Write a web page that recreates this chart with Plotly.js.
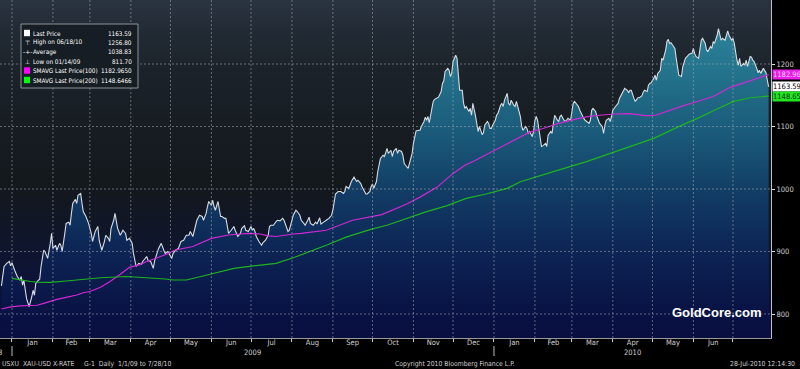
<!DOCTYPE html>
<html><head><meta charset="utf-8">
<script src="https://cdn.plot.ly/plotly-3.0.1.min.js"></script>
<style>
html,body{margin:0;padding:0;background:#000;width:800px;height:369px;overflow:hidden;}
#wrap{position:relative;width:800px;height:369px;}
#bg{position:absolute;left:0;top:0;width:771px;height:338px;
background:linear-gradient(to bottom,#2a3440 0%,#222b35 9%,#1b2229 22%,#161c21 40%,#13181d 55%,#10162a 70%,#0c1238 85%,#0a0e42 100%);}
#chart{position:absolute;left:0;top:0;width:800px;height:369px;}
</style></head><body>
<div id="wrap"><div id="bg"></div><div id="chart"></div></div>
<script>
// ---------------- DATA ----------------
const priceDates = [
'2008-12-24','2008-12-26','2008-12-28','2008-12-30','2008-12-31',
'2009-01-01','2009-01-03','2009-01-05','2009-01-07','2009-01-08','2009-01-09','2009-01-10','2009-01-12','2009-01-13','2009-01-14','2009-01-16','2009-01-17','2009-01-18','2009-01-19','2009-01-21','2009-01-22','2009-01-23','2009-01-25','2009-01-26','2009-01-28','2009-01-30','2009-01-31',
'2009-02-01','2009-02-03','2009-02-04','2009-02-06','2009-02-07','2009-02-08','2009-02-10','2009-02-11','2009-02-13','2009-02-14','2009-02-15','2009-02-16','2009-02-18','2009-02-19','2009-02-20','2009-02-22','2009-02-23','2009-02-24','2009-02-26','2009-02-28',
'2009-03-02','2009-03-03','2009-03-05','2009-03-07','2009-03-08','2009-03-10','2009-03-12','2009-03-13','2009-03-15','2009-03-16','2009-03-17','2009-03-19','2009-03-20','2009-03-21','2009-03-22','2009-03-24','2009-03-26','2009-03-28','2009-03-29','2009-03-31',
'2009-04-02','2009-04-03','2009-04-04','2009-04-05','2009-04-07','2009-04-09','2009-04-10','2009-04-13','2009-04-14','2009-04-16','2009-04-18','2009-04-19','2009-04-22','2009-04-24','2009-04-26','2009-04-27','2009-04-29',
'2009-05-01','2009-05-02','2009-05-03','2009-05-05','2009-05-07','2009-05-09','2009-05-11','2009-05-13','2009-05-15','2009-05-16','2009-05-18','2009-05-20','2009-05-21','2009-05-23','2009-05-25','2009-05-26','2009-05-28','2009-05-29','2009-05-30',
'2009-06-01','2009-06-02','2009-06-03','2009-06-04','2009-06-06','2009-06-07','2009-06-08','2009-06-09','2009-06-11','2009-06-12','2009-06-13','2009-06-14','2009-06-16','2009-06-18','2009-06-19','2009-06-21','2009-06-23','2009-06-24','2009-06-26','2009-06-27','2009-06-29',
'2009-07-01','2009-07-02','2009-07-03','2009-07-04','2009-07-05','2009-07-07','2009-07-09','2009-07-10','2009-07-12','2009-07-14','2009-07-15','2009-07-16','2009-07-18','2009-07-20','2009-07-21','2009-07-23','2009-07-25','2009-07-26','2009-07-28','2009-07-29','2009-07-30',
'2009-08-01','2009-08-02','2009-08-04','2009-08-05','2009-08-07','2009-08-08','2009-08-10','2009-08-11','2009-08-13','2009-08-14','2009-08-15','2009-08-17','2009-08-19','2009-08-20','2009-08-22','2009-08-23','2009-08-25','2009-08-26','2009-08-27','2009-08-29','2009-08-31',
'2009-09-01','2009-09-02','2009-09-03','2009-09-05','2009-09-07','2009-09-09','2009-09-10','2009-09-11','2009-09-13','2009-09-14','2009-09-15','2009-09-17','2009-09-18','2009-09-19','2009-09-20','2009-09-22','2009-09-23','2009-09-25','2009-09-26','2009-09-27','2009-09-29','2009-09-30',
'2009-10-01','2009-10-02','2009-10-04','2009-10-05','2009-10-06','2009-10-07','2009-10-09','2009-10-10','2009-10-11','2009-10-12','2009-10-13','2009-10-15','2009-10-16','2009-10-17','2009-10-19','2009-10-20','2009-10-21','2009-10-23','2009-10-24','2009-10-25','2009-10-26','2009-10-28','2009-10-29','2009-10-30','2009-10-31',
'2009-11-01','2009-11-02','2009-11-03','2009-11-05','2009-11-06','2009-11-07','2009-11-09','2009-11-10','2009-11-11','2009-11-12','2009-11-13','2009-11-15','2009-11-16','2009-11-17','2009-11-19','2009-11-20','2009-11-22','2009-11-23','2009-11-24','2009-11-25','2009-11-27','2009-11-28','2009-11-29','2009-11-30',
'2009-12-01','2009-12-03','2009-12-04','2009-12-05','2009-12-06','2009-12-08','2009-12-09','2009-12-10','2009-12-11','2009-12-13','2009-12-14','2009-12-15','2009-12-16','2009-12-18','2009-12-19','2009-12-20','2009-12-21','2009-12-23','2009-12-24','2009-12-25','2009-12-27','2009-12-28','2009-12-29','2009-12-30','2009-12-31',
'2010-01-02','2010-01-03','2010-01-04','2010-01-06','2010-01-07','2010-01-08','2010-01-09','2010-01-11','2010-01-12','2010-01-13','2010-01-14','2010-01-16','2010-01-17','2010-01-18','2010-01-19','2010-01-21','2010-01-22','2010-01-23','2010-01-25','2010-01-26','2010-01-27','2010-01-28','2010-01-30','2010-01-31',
'2010-02-01','2010-02-02','2010-02-03','2010-02-05','2010-02-06','2010-02-07','2010-02-09','2010-02-10','2010-02-11','2010-02-13','2010-02-14','2010-02-15','2010-02-16','2010-02-18','2010-02-19','2010-02-20','2010-02-21','2010-02-23','2010-02-24','2010-02-25','2010-02-26','2010-02-28',
'2010-03-01','2010-03-02','2010-03-03','2010-03-05','2010-03-06','2010-03-07','2010-03-08','2010-03-10','2010-03-11','2010-03-12','2010-03-14','2010-03-15','2010-03-16','2010-03-17','2010-03-19','2010-03-20','2010-03-21','2010-03-22','2010-03-24','2010-03-25','2010-03-26','2010-03-27','2010-03-29','2010-03-30','2010-03-31',
'2010-04-01','2010-04-03','2010-04-04','2010-04-05','2010-04-06','2010-04-08','2010-04-09','2010-04-10','2010-04-12','2010-04-13','2010-04-14','2010-04-15','2010-04-17','2010-04-18','2010-04-19','2010-04-20','2010-04-21','2010-04-23','2010-04-24','2010-04-25','2010-04-27','2010-04-28','2010-04-29','2010-04-30',
'2010-05-02','2010-05-03','2010-05-04','2010-05-05','2010-05-07','2010-05-08','2010-05-09','2010-05-11','2010-05-12','2010-05-13','2010-05-14','2010-05-15','2010-05-17','2010-05-18','2010-05-19','2010-05-20','2010-05-21','2010-05-23','2010-05-24','2010-05-26','2010-05-27','2010-05-28','2010-05-29','2010-05-31',
'2010-06-01','2010-06-02','2010-06-03','2010-06-05','2010-06-06','2010-06-07','2010-06-08','2010-06-10','2010-06-11','2010-06-12','2010-06-14','2010-06-15','2010-06-16','2010-06-17','2010-06-19','2010-06-20','2010-06-22','2010-06-23','2010-06-25','2010-06-26','2010-06-27','2010-06-28','2010-06-30',
'2010-07-01','2010-07-02','2010-07-04','2010-07-05','2010-07-06','2010-07-07','2010-07-09','2010-07-10','2010-07-11','2010-07-12','2010-07-14','2010-07-15','2010-07-16','2010-07-17','2010-07-19','2010-07-20','2010-07-21','2010-07-22','2010-07-24','2010-07-25','2010-07-26','2010-07-27','2010-07-28'
];
const priceValues = [
845,876,881,884,877,
882,870,860,854,860,846,854,825,817,811.7,828,838,830,849,854,855.5,876,902,900,889,913,929,
905,910,902,913,910,900,929,945,947,942,961,977,983.5,977,990,993,977,964,956,945,
929,916,932,940,918,902,916,926,921,916,937,950,961,950,937,926,934,929,918,921,
913,897,884,876,881,879.5,884,892,886,884,873,885,905,913,902,897,900,
894,889,897,902,905,916,918,926,926,932,924,940,950,958,956,950,961,972,980,
974,982,972,966,980,966,956,956,953,953,942,929,934,940,934,924,929,937,941,934,932,
940,934,937,932,924,916,910,914,918,926,940,942,942,948,950,949,953,950,940,932,934,
948,958,966,964,958,950,945,942,950,955,945,942,947,944,954,944,947,948,950,953,958,
966,982,992,996,996,993,996,1004,1001,1006,1012,1019,1014,1012,1014,1009,1004,996,992,992,996,1004,
1008,1001,1012,1028,1041,1049,1054,1052,1058,1065,1057,1062,1052,1060,1065,1057,1062,1060,1054,1041,1038,1033,1041,1049,1057,
1073,1086,1093,1094,1094,1100,1108,1115,1110,1116,1106,1129,1140,1143.5,1145,1147,1156,1169,1173,1188,1193,1190,1180,1185,
1204,1214,1209,1180,1158,1158,1137,1129,1132,1124,1129,1118,1137,1117,1105,1092,1100,1087,1090,1102,1108,1105,1097,1097,1102,
1110,1118,1121,1134,1137,1132,1142,1153,1137,1134,1142,1134,1132,1140,1132,1116,1100,1094,1100,1097,1089,1092,1084,1092,
1110,1116,1110,1078,1068,1069,1073,1068,1086,1092,1089,1105,1118,1110,1108,1116,1118,1110,1108,1110,1113,1110,
1126,1137,1140,1134,1132,1126,1121,1113,1110,1108,1105,1110,1126,1129,1124,1116,1110,1105,1100,1089,1102,1110,1113,1108,1116,
1126,1132,1134,1137,1145,1153,1156,1161,1158,1154,1158,1158,1145,1140,1143,1146,1146,1149,1155,1158,1156,1166,1169,1170,
1177,1182,1174,1185,1190,1209,1206,1222,1236,1239.5,1233,1234,1228,1225,1209,1193,1182,1180,1196,1209,1212,1214,1216,1217,
1225,1217,1212,1209,1228,1238,1241,1233,1222,1220,1228,1225,1236,1233,1246,1256.8,1238,1241,1238,1246,1253,1246,1238,
1241,1233,1206,1198,1209,1196,1201,1198,1206,1196,1212,1211,1206,1204,1193,1186,1190,1185,1193,1190,1186,1174,1163.59
];
const ma100Dates = ['2008-12-24','2008-12-30','2009-01-07','2009-01-15','2009-01-20','2009-01-25','2009-01-30','2009-02-04','2009-02-11','2009-02-19','2009-02-24','2009-03-01','2009-03-09','2009-03-16','2009-03-24','2009-03-31','2009-04-08','2009-04-13','2009-04-21','2009-04-28','2009-05-04','2009-05-18','2009-06-01','2009-06-05','2009-06-14','2009-06-29','2009-07-08','2009-07-14','2009-07-20','2009-08-02','2009-08-08','2009-08-27','2009-09-16','2009-10-08','2009-10-27','2009-11-06','2009-11-19','2009-12-01','2009-12-10','2009-12-18','2010-01-02','2010-01-17','2010-01-28','2010-02-06','2010-02-19','2010-03-03','2010-03-13','2010-03-24','2010-04-03','2010-04-14','2010-04-27','2010-05-04','2010-05-14','2010-05-24','2010-06-04','2010-06-16','2010-06-29','2010-07-09','2010-07-19','2010-07-28'];
const ma100Values = [808,811,813,813,814,817,820.5,823.5,826.7,830.4,834,836,842.7,851.7,863.5,874.7,879,884,890,895.5,902,908,921,922.7,926.4,929,928,925,924,928,929,934,950,959,976,987,1003,1025,1038,1046,1062,1078,1091,1096,1105,1111.5,1115.7,1118.4,1120,1120.5,1117,1118.4,1126,1133,1140,1148,1162.7,1170,1177,1182.965];
const ma200Dates = ['2009-01-01','2009-01-07','2009-01-15','2009-01-20','2009-01-30','2009-02-11','2009-02-27','2009-03-09','2009-03-29','2009-04-08','2009-04-18','2009-04-27','2009-05-03','2009-05-13','2009-05-28','2009-06-18','2009-07-03','2009-07-20','2009-08-02','2009-08-16','2009-08-27','2009-09-11','2009-09-29','2009-10-12','2009-10-27','2009-11-11','2009-11-26','2009-12-11','2009-12-26','2010-01-11','2010-01-21','2010-01-28','2010-02-15','2010-03-12','2010-04-03','2010-04-18','2010-05-02','2010-05-18','2010-05-27','2010-06-04','2010-06-19','2010-07-01','2010-07-14','2010-07-28'];
const ma200Values = [857,854.4,852,851,850.7,852.8,856,858,860,859,857,856,854.4,854.4,862,873,877,881,890,900.5,910,923,935,942,953,963.7,973,985,992,1001,1011.7,1016,1027.7,1043.7,1059.7,1070.4,1081,1097,1105,1113,1128,1139.7,1146,1148.6466];

const monthLabels = ['Jan','Feb','Mar','Apr','May','Jun','Jul','Aug','Sep','Oct','Nov','Dec','Jan','Feb','Mar','Apr','May','Jun'];
const yearLabels = ['2008','2009','2010'];
const yTickValues = [800,900,1000,1100,1200];
const legendLabels = ['Last Price','High on 06/18/10','Average','Low on 01/14/09','SMAVG Last Price(100)','SMAVG Last Price(200)'];
const legendValues = ['1163.59','1256.80','1038.83','811.70','1182.9650','1148.6466'];
const tagValues = [1182.965, 1163.59, 1148.6466];
const tagTexts = ['1182.96','1163.59','1148.65'];
const footerLeft = 'USXU\u00a0\u00a0XAU-USD X-RATE\u00a0\u00a0\u00a0\u00a0\u00a0G-1\u00a0\u00a0Daily\u00a0\u00a01/1/09 to 7/28/10';
const footerMid = 'Copyright 2010 Bloomberg Finance L.P.';
const footerRight = '28-Jul-2010 12:14:30';
const watermark = 'GoldCore.com';

// ---------------- LAYOUT HELPERS ----------------
const W=800,H=369,ML=0,MR=29,MT=0,MB=31;
const PW=W-ML-MR, PH=H-MT-MB;
const px = x => (x-ML)/PW;
const py = y => (PH-(y-MT))/PH;
const xRange = ['2008-12-22 22:00','2010-07-29 19:00'];
const yRange = [761.6,1302.4];
const FONT = '"Liberation Sans Narrow","DejaVu Sans Condensed","Arial Narrow","Liberation Sans",sans-serif';
const TXT = '#d0d0d0';

const monthStarts = [];
for (let i=0;i<=18;i++){ monthStarts.push(Date.UTC(2009, i, 1)); }
const monthMids = [];
for (let i=0;i<18;i++){ monthMids.push((monthStarts[i]+monthStarts[i+1])/2); }
const toIso = ms => new Date(ms).toISOString().slice(0,19).replace('T',' ');

const colPrice='rgb(215,220,226)', colMA100='rgb(210,40,210)', colMA200='rgb(30,180,30)';

const traces = [
  {x:priceDates, y:priceValues, type:'scatter', mode:'lines',
   line:{color:colPrice, width:1.1}, fill:'tozeroy',
   fillgradient:{type:'vertical', start:yRange[0], stop:1302,
     colorscale:[[0,'rgb(8,14,64)'],[0.07,'rgb(9,18,68)'],[0.256,'rgb(12,36,84)'],[0.441,'rgb(18,62,102)'],[0.626,'rgb(27,93,124)'],[0.811,'rgb(37,118,143)'],[1,'rgb(48,140,163)']]},
   hoverinfo:'skip'},
  {x:ma100Dates, y:ma100Values, type:'scatter', mode:'lines', line:{color:colMA100, width:1.2}, hoverinfo:'skip'},
  {x:ma200Dates, y:ma200Values, type:'scatter', mode:'lines', line:{color:colMA200, width:1.2}, hoverinfo:'skip'}
];

const shapes = [];
const gridLine = {color:'rgba(165,170,175,0.55)', width:1, dash:'2px,2px'};
monthStarts.forEach(ms => shapes.push({type:'line', xref:'x', yref:'paper', x0:toIso(ms), x1:toIso(ms), y0:0, y1:1, line:gridLine, layer:'above'}));
yTickValues.forEach(v => shapes.push({type:'line', xref:'paper', yref:'y', x0:0, x1:1, y0:v, y1:v, line:gridLine, layer:'above'}));
shapes.push({type:'rect', xref:'paper', yref:'paper', x0:px(21), x1:px(138), y0:py(88), y1:py(24),
  fillcolor:'rgba(22,29,35,0.96)', line:{color:'#8c9196', width:1}, layer:'above'});
const rowY = [33, 42.3, 51.7, 61, 70.5, 80];
const sqColors = ['#ffffff', null, null, null, '#ff00ff', '#00ff00'];
sqColors.forEach((c,i)=>{ if(c) shapes.push({type:'rect', xref:'paper', yref:'paper', x0:px(24), x1:px(30), y0:py(rowY[i]+3.2), y1:py(rowY[i]-3.2), fillcolor:c, line:{width:0}, layer:'above'}); });
['2009-01-01','2010-01-01'].forEach(d => shapes.push({type:'line', xref:'x', yref:'paper', x0:d, x1:d, y0:py(346), y1:py(356), line:{color:'#bbbbbb', width:1}}));

const annotations = [];
const LF = 6.3;
legendLabels.forEach((t,i)=>{
  annotations.push({xref:'paper', yref:'paper', x:px(31), y:py(rowY[i]), xanchor:'left', yanchor:'middle', text:t, showarrow:false, font:{family:FONT, size:LF, color:'#ffffff'}});
  annotations.push({xref:'paper', yref:'paper', x:px(133.5), y:py(rowY[i]), xanchor:'right', yanchor:'middle', text:legendValues[i], showarrow:false, font:{family:FONT, size:LF, color:'#ffffff'}});
});
['\u22a4','-+-','\u22a5'].forEach((s,k)=>{
  annotations.push({xref:'paper', yref:'paper', x:px(27.5), y:py(rowY[k+1]), xanchor:'center', yanchor:'middle', text:s, showarrow:false, font:{family:'DejaVu Sans', size:6, color:'#ffffff'}});
});
const tagBg = ['rgb(230,30,230)', '#ffffff', '#22e622'];
const tagFg = ['#ffd0ff', '#000000', '#003300'];
tagValues.forEach((v,i)=> annotations.push({xref:'paper', yref:'y', x:1, y:v, xanchor:'left', yanchor:'middle', xshift:1,
  text:tagTexts[i], showarrow:false, bgcolor:tagBg[i], borderpad:0, font:{family:FONT, size:7.5, color:tagFg[i]}}));
const ms2009 = Date.UTC(2009,0,1), ms2010 = Date.UTC(2010,0,1);
const msEnd = new Date(xRange[1].replace(' ','T')+'Z').getTime();
const YL = 353, FS = 6.8;
annotations.push({xref:'paper', yref:'paper', x:px(4), y:py(YL), xanchor:'right', yanchor:'middle', text:yearLabels[0], showarrow:false, font:{family:FONT, size:7.5, color:TXT}});
annotations.push({xref:'x', yref:'paper', x:toIso((ms2009+ms2010)/2), y:py(YL), xanchor:'center', yanchor:'middle', text:yearLabels[1], showarrow:false, font:{family:FONT, size:7.5, color:TXT}});
annotations.push({xref:'x', yref:'paper', x:toIso((ms2010+msEnd)/2), y:py(YL), xanchor:'center', yanchor:'middle', text:yearLabels[2], showarrow:false, font:{family:FONT, size:7.5, color:TXT}});
annotations.push({xref:'paper', yref:'paper', x:px(0), y:py(363.5), xanchor:'left', yanchor:'middle', text:footerLeft, showarrow:false, font:{family:FONT, size:FS, color:TXT}});
annotations.push({xref:'paper', yref:'paper', x:px(455), y:py(363.5), xanchor:'center', yanchor:'middle', text:footerMid, showarrow:false, font:{family:FONT, size:FS, color:TXT}});
annotations.push({xref:'paper', yref:'paper', x:px(797), y:py(363.5), xanchor:'right', yanchor:'middle', text:footerRight, showarrow:false, font:{family:FONT, size:FS, color:TXT}});
annotations.push({xref:'paper', yref:'paper', x:px(717), y:py(312), xanchor:'center', yanchor:'middle', text:'<b>'+watermark+'</b>', showarrow:false, font:{family:'Liberation Sans, Arial, sans-serif', size:13, color:'#ffffff'}});

const layout = {
  width:W, height:H, margin:{l:ML, r:MR, t:MT, b:MB, pad:0},
  paper_bgcolor:'rgba(0,0,0,0)', plot_bgcolor:'rgba(0,0,0,0)',
  showlegend:false,
  xaxis:{type:'date', range:xRange, showgrid:false, zeroline:false,
    showline:true, linecolor:'#9a9a9a', linewidth:1,
    tickmode:'array', tickvals:monthMids.map(toIso), ticktext:monthLabels, ticks:'',
    ticklabelstandoff:-3,
    tickfont:{family:FONT, size:7.5, color:TXT},
    minor:{tickmode:'array', tickvals:monthStarts.map(toIso), ticks:'outside', ticklen:3, tickcolor:'#cccccc', tickwidth:1, showgrid:false}},
  yaxis:{range:yRange, side:'right', showgrid:false, zeroline:false,
    showline:true, linecolor:'#bfbfbf', linewidth:1,
    tickmode:'array', tickvals:yTickValues, ticks:'outside', ticklen:3, tickcolor:'#dddddd',
    tickfont:{family:FONT, size:7.5, color:TXT}},
  shapes:shapes, annotations:annotations
};
Plotly.newPlot('chart', traces, layout, {staticPlot:true, displayModeBar:false});
</script>
</body></html>
